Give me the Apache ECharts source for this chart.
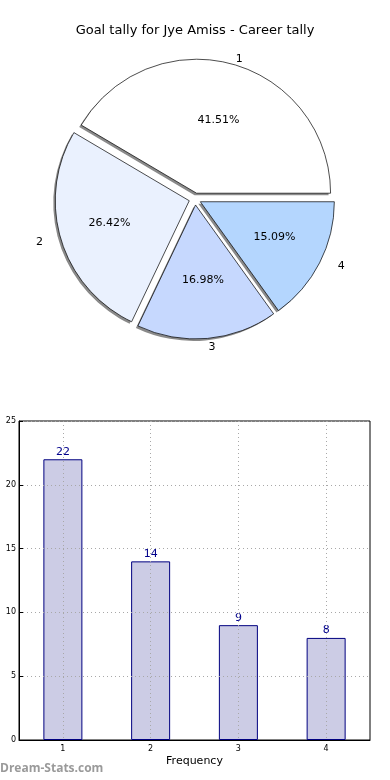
<!DOCTYPE html>
<html><head><meta charset="utf-8">
<script src="https://cdn.jsdelivr.net/npm/echarts@6/dist/echarts.min.js"></script>
<style>html,body{margin:0;padding:0;background:#fff}#c{width:390px;height:780px}</style>
</head><body><div id="c"></div>
<script>
const titleText = 'Goal tally for Jye Amiss - Career tally';
const categories = ['1', '2', '3', '4'];
const values = [22, 14, 9, 8];
const pieColors = ['#ffffff', '#eaf1fe', '#c6d8fe', '#b4d6fe'];
const yMin = 0, yMax = 25, yStep = 5;
const xName = 'Frequency';
const yName = 'Number of Games';
const watermark = 'Dream-Stats.com';

// label nudges (styling only): horizontal padding, vertical shift (px, + = down)
const pctPad = [[0, 0, 0, 0], [0, 0, 0, 0], [0, 0, 0, 0], [0, 0, 0, 0]];
const pctShift = [7, -2, -8, -3];
const namePad = [[0, 0, 0, 6], [0, 12, 0, 0], [0, 0, 0, 6], [0, 0, 0, 14]];
const nameShift = [11, -3, -8, -4];

const total = values.reduce((a, b) => a + b, 0);
const F = 'DejaVu Sans';
const C = [195, 199], R = 134;

function shifted(text, s) {
  if (!s) return text;
  return s > 0 ? '\n' + text : text + '\n';
}

const baseData = categories.map((c, i) => ({ name: c, value: values[i], selected: true }));
const common = {
  type: 'pie', center: C, startAngle: 0, clockwise: false,
  selectedMode: 'multiple', selectedOffset: 6, animation: false,
  avoidLabelOverlap: false, emphasis: { disabled: true }
};
const clear = { color: 'rgba(0,0,0,0)', borderWidth: 0 };

const chart = echarts.init(document.getElementById('c'));
chart.setOption({
  animation: false,
  title: { text: titleText, left: 'center', top: 19, textStyle: { fontFamily: F, fontSize: 13, fontWeight: 'normal', color: '#000' } },
  graphic: [{ type: 'text', left: 0, top: 763, style: { text: watermark, font: 'bold 12px "Open Sans"', fill: '#9a9a9a' } }],
  grid: { left: 19, top: 421, width: 351, height: 319, show: true, borderColor: '#000', borderWidth: 1, containLabel: false, outerBoundsMode: 'none' },
  xAxis: {
    type: 'category', data: categories, z: 5,
    name: xName, nameLocation: 'middle', nameGap: 16, nameMoveOverlap: false,
    nameTextStyle: { fontFamily: F, fontSize: 11, color: '#000' },
    axisLine: { lineStyle: { color: '#000' } },
    axisTick: { alignWithLabel: true, inside: true, length: 4, lineStyle: { color: '#000' } },
    axisLabel: { fontFamily: F, fontSize: 8, color: '#000', margin: 5 },
    splitLine: { show: true, alignWithLabel: true, lineStyle: { type: [1, 3], color: '#a8a8a8' } }
  },
  yAxis: {
    type: 'value', min: yMin, max: yMax, interval: yStep, z: 5,
    name: yName, nameLocation: 'middle', nameGap: 20, nameMoveOverlap: false,
    nameTextStyle: { fontFamily: F, fontSize: 10, color: '#000' },
    axisLine: { show: true, lineStyle: { color: '#000' } },
    axisTick: { show: true, inside: true, length: 4, lineStyle: { color: '#000' } },
    axisLabel: { fontFamily: F, fontSize: 8, color: '#000', margin: 3 },
    splitLine: { show: true, lineStyle: { type: [1, 3], color: '#a8a8a8' } }
  },
  series: [
    Object.assign({}, common, {
      center: [C[0] - 2, C[1] + 2], radius: R, z: 1, silent: true,
      data: baseData,
      label: { show: false }, labelLine: { show: false },
      itemStyle: { color: '#8a8a8a', borderWidth: 0 }
    }),
    Object.assign({}, common, {
      radius: R, z: 2,
      data: baseData.map((d, i) => Object.assign({}, d, { itemStyle: { color: pieColors[i] } })),
      label: { show: false }, labelLine: { show: false },
      itemStyle: { borderColor: '#000', borderWidth: 0.7 }
    }),
    Object.assign({}, common, {
      radius: [R * 0.2, R], z: 3, silent: true,
      data: baseData.map((d, i) => Object.assign({}, d, { label: {
        padding: pctPad[i], lineHeight: Math.abs(pctShift[i]) * 2 || 13,
        formatter: shifted((values[i] / total * 100).toFixed(2) + '%', pctShift[i]) } })),
      itemStyle: clear,
      label: { show: true, position: 'inside', fontFamily: F, fontSize: 11, color: '#000' },
      labelLine: { show: false }
    }),
    Object.assign({}, common, {
      radius: [R * 1.0, R * 1.2], z: 3, silent: true,
      data: baseData.map((d, i) => Object.assign({}, d, { label: {
        padding: namePad[i], lineHeight: Math.abs(nameShift[i]) * 2 || 13,
        formatter: shifted(categories[i], nameShift[i]) } })),
      itemStyle: clear,
      label: { show: true, position: 'inside', fontFamily: F, fontSize: 11, color: '#000' },
      labelLine: { show: false }
    }),
    {
      type: 'bar', data: values, barWidth: 39, z: 2,
      itemStyle: { color: '#ccccE5', borderColor: '#000080', borderWidth: 1 },
      label: { show: true, position: 'top', distance: 2, fontFamily: F, fontSize: 11, color: '#00008b' }
    }
  ]
});
</script></body></html>
